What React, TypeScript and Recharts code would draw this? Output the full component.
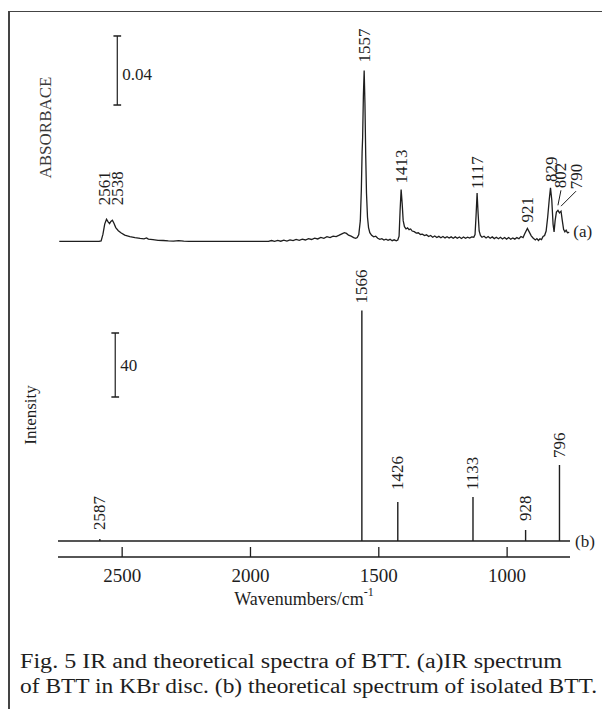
import React from 'react';
import { LineChart, Line, XAxis, YAxis, ReferenceLine, ReferenceDot } from 'recharts';

const INK = '#1e1e1e';
const SERIF = '"Liberation Serif", "DejaVu Serif", serif';

// x axis: wavenumbers in cm-1, drawn from high to low
const waveDomain: [number, number] = [755, 2750];
const waveTicks = [2500, 2000, 1500, 1000];

// (a) measured IR spectrum: [wavenumber, absorbance x 1000]
const irSpectrum: [number, number][] = [
  [2745, 0], [2590, 0], [2582, 0.3], [2575, 4], [2568, 10], [2561, 12.8], [2554, 11.2],
  [2549, 10.3], [2544, 11.5], [2538, 12.2], [2532, 10.5], [2525, 8], [2515, 6.2],
  [2505, 5], [2490, 3.6], [2470, 2.8], [2450, 2.2], [2430, 1.7], [2415, 1.5], [2405, 2.0],
  [2398, 1.3], [2380, 1.0], [2360, 0.6], [2340, 0.5], [2320, 0.3], [2300, 0.2], [2280, 0.4],
  [2260, 0.1], [2240, 0], [1930, 0], [1918, 0.5], [1906, 0], [1894, 0.6], [1882, 0.1],
  [1870, 0.7], [1858, 0.2], [1846, 0.9], [1834, 0.4], [1822, 1.1], [1810, 0.6], [1798, 1.3],
  [1786, 0.8], [1774, 1.6], [1762, 1.1], [1750, 1.9], [1738, 1.4], [1726, 2.3], [1714, 1.8],
  [1702, 2.7], [1690, 2.2], [1678, 3.0], [1666, 2.8], [1654, 3.6], [1642, 4.5], [1634, 5.0],
  [1626, 4.6], [1618, 3.6], [1608, 3.0], [1598, 2.2], [1590, 1.8], [1584, 2.2], [1578, 4.0],
  [1572, 12], [1568, 30], [1565, 52], [1563, 60], [1560, 85], [1557, 99], [1554, 80],
  [1551, 50], [1548, 28], [1544, 14], [1540, 8], [1535, 5], [1528, 3.5], [1520, 2.6],
  [1512, 3.0], [1504, 1.8], [1496, 1.2], [1488, 1.6], [1480, 0.8], [1472, 1.3], [1464, 0.6],
  [1456, 1.2], [1448, 0.4], [1440, 0.9], [1432, 0.3], [1426, 0.8], [1421, 3], [1417, 18],
  [1413, 30], [1409, 22], [1405, 12], [1400, 8.5], [1394, 7.2], [1388, 7.8], [1382, 6.8],
  [1376, 7.2], [1370, 6.0], [1362, 5.6], [1354, 4.8], [1346, 5.0], [1338, 4.0], [1330, 4.2],
  [1322, 3.4], [1314, 3.8], [1306, 2.8], [1298, 3.4], [1290, 2.4], [1282, 3.1], [1274, 2.2],
  [1266, 2.9], [1258, 2.1], [1250, 2.8], [1242, 2.0], [1234, 2.7], [1226, 1.9], [1218, 2.6],
  [1210, 1.8], [1202, 2.6], [1194, 1.8], [1186, 2.5], [1178, 1.7], [1170, 2.5], [1162, 1.8],
  [1154, 2.4], [1146, 1.9], [1138, 2.6], [1130, 2.4], [1125, 4], [1121, 15], [1117, 28],
  [1113, 16], [1109, 6], [1104, 3.4], [1098, 2.4], [1090, 3.0], [1082, 2.0], [1074, 2.8],
  [1066, 1.8], [1058, 2.6], [1050, 1.6], [1042, 2.4], [1034, 1.5], [1026, 2.4], [1018, 1.4],
  [1010, 2.2], [1002, 1.3], [994, 2.2], [986, 1.2], [978, 2.0], [970, 1.3], [962, 2.2],
  [954, 1.5], [946, 2.8], [938, 2.2], [930, 4.8], [921, 7.5], [914, 5.5], [906, 3.2],
  [898, 1.8], [890, 0.8], [884, 1.6], [878, 0.5], [872, 1.5], [866, 1.0], [860, 2.8],
  [854, 3.4], [848, 6], [842, 14], [836, 24], [831, 31], [826, 24], [821, 10], [817, 5.5],
  [813, 12], [808, 17], [802, 18], [796, 16.5], [790, 17.5], [785, 12], [780, 7],
  [775, 5.5], [770, 6.5], [765, 5.0], [758, 5.2],
];

const irPeakLabels = [2561, 2538, 1557, 1413, 1117, 921, 829, 802, 790];
const irPeakHeights = [12.8, 12.2, 99, 30, 28, 7.5, 31, 18, 17.5];

// (b) calculated stick spectrum
const calcPeaks = [2587, 1566, 1426, 1133, 928, 796];
const calcIntensities = [1.2, 144, 24.4, 27.5, 6.9, 47.5];

// scale bars (x in cm-1, y in the panel's own units)
const absBar = { w: 2519, from: 79, to: 119, text: '0.04' };
const intBar = { w: 2527, from: 90, to: 130, text: '40' };

const captionLines = [
  'Fig. 5 IR and theoretical spectra of BTT. (a)IR spectrum',
  'of BTT in KBr disc. (b) theoretical spectrum of isolated BTT.',
];

const irData = irSpectrum.map(([w, a]) => ({ w, a }));
const stickData: { w: number; v: number }[] = [{ w: waveDomain[1], v: 0 }];
calcPeaks.forEach((w, i) => {
  stickData.push({ w, v: 0 }, { w, v: calcIntensities[i] }, { w, v: 0 });
});
stickData.push({ w: waveDomain[0], v: 0 });

// label nudges in px, only where the figure moves a label off its peak
const irLabelStyle: Record<number, { dx?: number; gap?: number; leader?: boolean }> = {
  2561: { dx: -2, gap: 14 },
  2538: { dx: 5, gap: 15 },
  1557: { gap: 8 },
  1117: { gap: 4 },
  802: { dx: 3, gap: 22, leader: true },
  790: { dx: 15, gap: 22, leader: true },
};
const calcLabelStyle: Record<number, { gap?: number }> = {
  2587: { gap: 9 },
  1426: { gap: 12 },
  928: { gap: 9 },
};

function PeakLabel({ viewBox, text, dx = 0, gap = 6, leader = false }: any) {
  const x = viewBox.x + dx;
  const y = viewBox.y - gap;
  return (
    <g>
      {leader && (
        <line x1={x} y1={y + 2} x2={viewBox.x} y2={viewBox.y - 5} stroke={INK} strokeWidth={1} />
      )}
      <text
        x={x}
        y={y}
        transform={`rotate(-90 ${x} ${y})`}
        dominantBaseline="central"
        fontSize={17}
        fontFamily={SERIF}
        fill={INK}
      >
        {text}
      </text>
    </g>
  );
}

function SideText({ viewBox, text, dx = 0, dy = 0, size = 17 }: any) {
  return (
    <text
      x={viewBox.x + dx}
      y={viewBox.y + dy}
      dominantBaseline="central"
      fontSize={size}
      fontFamily={SERIF}
      fill={INK}
    >
      {text}
    </text>
  );
}

function AxisTitle({ viewBox, text, dx, dy = 0, color = INK }: any) {
  const x = viewBox.x + dx;
  const y = viewBox.y + viewBox.height / 2 + dy;
  return (
    <text
      x={x}
      y={y}
      transform={`rotate(-90 ${x} ${y})`}
      textAnchor="middle"
      dominantBaseline="central"
      fontSize={17}
      fontFamily={SERIF}
      fill={color}
    >
      {text}
    </text>
  );
}

function WaveTick({ x, y, payload }: any) {
  return (
    <g>
      <line x1={x} x2={x} y1={y} y2={y - 10} stroke={INK} strokeWidth={1.3} />
      <text
        x={x}
        y={y + 18}
        textAnchor="middle"
        dominantBaseline="central"
        fontSize={19}
        fontFamily={SERIF}
        fill={INK}
      >
        {payload.value}
      </text>
    </g>
  );
}

function WaveTitle({ viewBox }: any) {
  return (
    <text
      x={viewBox.x + viewBox.width / 2 - 10}
      y={viewBox.y + 42}
      textAnchor="middle"
      dominantBaseline="central"
      fontSize={18}
      fontFamily={SERIF}
      fill={INK}
    >
      Wavenumbers/cm
      <tspan dy={-7} fontSize={12}>
        -1
      </tspan>
    </text>
  );
}

function ScaleBar({ bar, half }: { bar: typeof absBar; half: number }) {
  return null;
}

export default function App() {
  const capHalf = 15;
  return (
    <div
      style={{
        position: 'absolute',
        left: 0,
        top: 0,
        width: 603,
        height: 709,
        background: '#fff',
        overflow: 'hidden',
      }}
    >
      <div
        style={{
          position: 'absolute',
          left: 8,
          top: 11,
          width: 592,
          height: 700,
          borderLeft: '2px solid #444',
          borderTop: '1.5px solid #444',
        }}
      />

      {/* (a) IR spectrum */}
      <div style={{ position: 'absolute', left: 0, top: 0 }}>
        <LineChart width={603} height={260} data={irData} margin={{ top: 17, right: 33, bottom: 10, left: 20 }}>
          <XAxis type="number" dataKey="w" domain={waveDomain} reversed hide allowDataOverflow />
          <YAxis
            type="number"
            domain={[-5, 130]}
            width={38}
            tick={false}
            axisLine={false}
            tickLine={false}
            allowDataOverflow
            label={<AxisTitle text="ABSORBACE" dx={25} dy={-6} color="#3a3a3a" />}
          />
          <Line
            type="linear"
            dataKey="a"
            stroke={INK}
            strokeWidth={1.3}
            dot={false}
            isAnimationActive={false}
          />
          <ReferenceLine segment={[{ x: absBar.w, y: absBar.from }, { x: absBar.w, y: absBar.to }]} stroke={INK} strokeWidth={1.2} />
          <ReferenceLine segment={[{ x: absBar.w + capHalf, y: absBar.from }, { x: absBar.w - capHalf, y: absBar.from }]} stroke={INK} strokeWidth={1.5} />
          <ReferenceLine segment={[{ x: absBar.w + capHalf, y: absBar.to }, { x: absBar.w - capHalf, y: absBar.to }]} stroke={INK} strokeWidth={1.5} />
          <ReferenceDot
            x={absBar.w}
            y={(absBar.from + absBar.to) / 2}
            r={0}
            fill="none"
            stroke="none"
            label={<SideText text={absBar.text} dx={5} dy={4} />}
          />
          {irPeakLabels.map((w, i) => (
            <ReferenceDot
              key={w}
              x={w}
              y={irPeakHeights[i]}
              r={0}
              fill="none"
              stroke="none"
              label={<PeakLabel text={String(w)} {...(irLabelStyle[w] || {})} />}
            />
          ))}
          <ReferenceDot
            x={irData[irData.length - 1].w}
            y={irData[irData.length - 1].a}
            r={0}
            fill="none"
            stroke="none"
            label={<SideText text="(a)" dx={4} dy={-1} />}
          />
        </LineChart>
      </div>

      {/* (b) theoretical stick spectrum */}
      <div style={{ position: 'absolute', left: 0, top: 250 }}>
        <LineChart width={603} height={360} data={stickData} margin={{ top: 19, right: 33, bottom: 0, left: 20 }}>
          <XAxis
            type="number"
            dataKey="w"
            domain={waveDomain}
            reversed
            allowDataOverflow
            ticks={waveTicks}
            height={53}
            tickSize={0}
            tickMargin={0}
            tickLine={false}
            axisLine={{ stroke: INK, strokeWidth: 1.3 }}
            tick={<WaveTick />}
            label={<WaveTitle />}
          />
          <YAxis
            type="number"
            domain={[-10, 170]}
            width={38}
            tick={false}
            axisLine={false}
            tickLine={false}
            allowDataOverflow
            label={<AxisTitle text="Intensity" dx={10} dy={2} />}
          />
          <Line
            type="linear"
            dataKey="v"
            stroke={INK}
            strokeWidth={1.4}
            dot={false}
            isAnimationActive={false}
          />
          <ReferenceLine segment={[{ x: intBar.w, y: intBar.from }, { x: intBar.w, y: intBar.to }]} stroke={INK} strokeWidth={1.2} />
          <ReferenceLine segment={[{ x: intBar.w + capHalf, y: intBar.from }, { x: intBar.w - capHalf, y: intBar.from }]} stroke={INK} strokeWidth={1.5} />
          <ReferenceLine segment={[{ x: intBar.w + capHalf, y: intBar.to }, { x: intBar.w - capHalf, y: intBar.to }]} stroke={INK} strokeWidth={1.5} />
          <ReferenceDot
            x={intBar.w}
            y={(intBar.from + intBar.to) / 2}
            r={0}
            fill="none"
            stroke="none"
            label={<SideText text={intBar.text} dx={5} dy={0} />}
          />
          {calcPeaks.map((w, i) => (
            <ReferenceDot
              key={w}
              x={w}
              y={calcIntensities[i]}
              r={0}
              fill="none"
              stroke="none"
              label={<PeakLabel text={String(w)} gap={7} {...(calcLabelStyle[w] || {})} />}
            />
          ))}
          <ReferenceDot
            x={waveDomain[0]}
            y={0}
            r={0}
            fill="none"
            stroke="none"
            label={<SideText text="(b)" dx={5} dy={0} />}
          />
        </LineChart>
      </div>

      {/* caption */}
      <svg style={{ position: 'absolute', left: 0, top: 630 }} width={603} height={79}>
        <text x={20} y={38} fontSize={20} fontFamily={SERIF} fill={INK} textLength={542} lengthAdjust="spacingAndGlyphs">
          {captionLines[0]}
        </text>
        <text x={20} y={63} fontSize={20} fontFamily={SERIF} fill={INK} textLength={577} lengthAdjust="spacingAndGlyphs">
          {captionLines[1]}
        </text>
      </svg>
    </div>
  );
}
